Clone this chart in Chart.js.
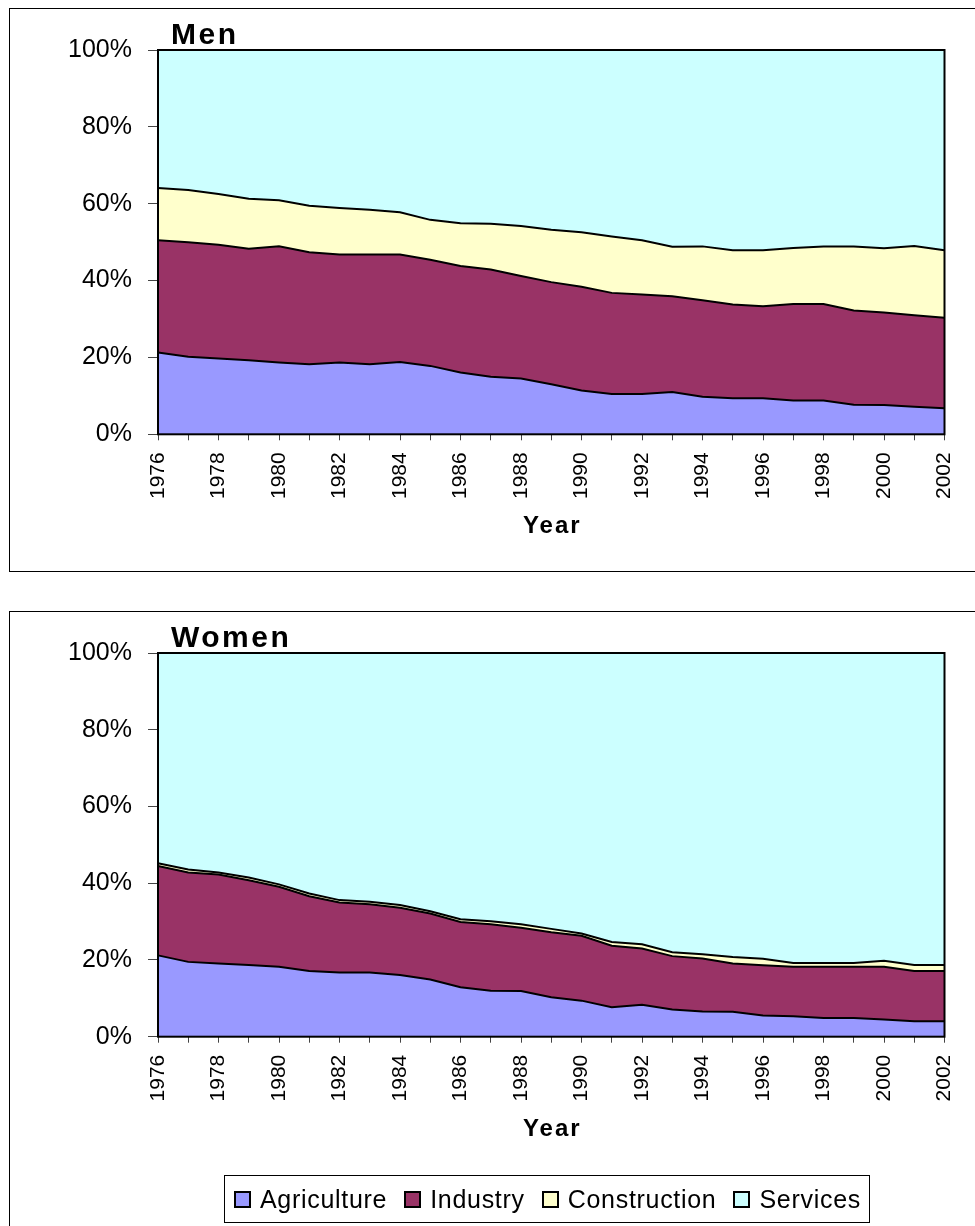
<!DOCTYPE html>
<html>
<head>
<meta charset="utf-8">
<title>Employment by sector, men and women, 1976–2002</title>
<script src="https://cdn.jsdelivr.net/npm/chart.js@4/dist/chart.umd.min.js"></script>
<style>
  html, body { margin: 0; padding: 0; background: #fff; }
  body {
    position: relative; width: 975px; height: 1226px; overflow: hidden;
    font-family: 'Liberation Sans', Arial, sans-serif;
  }
  .frame { position: absolute; border: 1px solid #000; box-sizing: border-box; }
  #menFrame   { left: 9px; top: 8px;   width: 990px; height: 564px; }
  #womenFrame { left: 9px; top: 611px; width: 990px; height: 640px; }
  canvas { position: absolute; }
  #menChart   { left: 10px; top: 9px; }
  #womenChart { left: 10px; top: 612px; }
  #legend {
    position: absolute; left: 224px; top: 1175px; height: 48px;
    box-sizing: border-box; border: 1px solid #000;
    display: flex; align-items: center;
    padding: 0 8px 0 9px;
    font-size: 25px; letter-spacing: 0.7px; color: #000; white-space: nowrap;
  }
  #legend .item { display: flex; align-items: center; margin-right: 17px; }
  #legend .item:last-child { margin-right: 0; }
  #legend .swatch {
    width: 13px; height: 13px; border: 2px solid #000; margin-right: 9px;
    flex: none;
  }
</style>
</head>
<body>
<div class="frame" id="menFrame"></div>
<div class="frame" id="womenFrame"></div>
<canvas id="menChart" width="972" height="562"></canvas>
<canvas id="womenChart" width="972" height="614"></canvas>
<div id="legend"></div>

<script>
// Share of employment by sector (% of all employed), 1976–2002
const years = [1976, 1977, 1978, 1979, 1980, 1981, 1982, 1983, 1984, 1985, 1986, 1987, 1988, 1989,
               1990, 1991, 1992, 1993, 1994, 1995, 1996, 1997, 1998, 1999, 2000, 2001, 2002];

const sectors = ['Agriculture', 'Industry', 'Construction', 'Services'];
const sectorColors = ['#9999FF', '#993366', '#FFFFCC', '#CCFFFF'];

const yTicks = [0, 20, 40, 60, 80, 100];

// Men
const menAgriculture  = [21.3, 20.2, 19.7, 19.3, 18.7, 18.2, 18.7, 18.2, 18.8, 17.8, 16.1, 15.0, 14.5, 13.0,
                         11.4, 10.5, 10.5, 11.0, 9.8, 9.4, 9.4, 8.8, 8.8, 7.7, 7.6, 7.2, 6.8];
const menIndustry     = [29.2, 29.8, 29.6, 29.0, 30.2, 29.2, 28.1, 28.6, 28.0, 27.6, 27.7, 27.9, 26.7, 26.6,
                         27.0, 26.3, 25.9, 24.9, 25.1, 24.4, 23.9, 25.1, 25.1, 24.5, 24.1, 23.8, 23.5];
const menConstruction = [13.6, 13.6, 13.2, 13.0, 12.0, 12.1, 12.1, 11.6, 11.0, 10.4, 11.1, 11.9, 13.0, 13.6,
                         14.2, 14.7, 14.1, 12.9, 14.0, 14.1, 14.6, 14.6, 15.0, 16.7, 16.7, 18.0, 17.6];
const menServices     = [35.9, 36.4, 37.5, 38.7, 39.1, 40.5, 41.1, 41.6, 42.2, 44.2, 45.1, 45.2, 45.8, 46.8,
                         47.4, 48.5, 49.5, 51.2, 51.1, 52.1, 52.1, 51.5, 51.1, 51.1, 51.6, 51.0, 52.1];

// Women
const womenAgriculture  = [21.2, 19.5, 19.1, 18.7, 18.2, 17.1, 16.7, 16.7, 16.1, 14.9, 12.9, 12.0, 11.9, 10.3,
                           9.4, 7.7, 8.3, 7.1, 6.6, 6.5, 5.5, 5.3, 4.9, 4.9, 4.5, 4.0, 4.0];
const womenIndustry     = [23.3, 23.3, 23.2, 22.1, 20.9, 19.5, 18.3, 17.8, 17.5, 17.2, 17.0, 17.3, 16.5, 16.9,
                           16.9, 16.0, 14.7, 13.9, 13.8, 12.6, 13.1, 12.9, 13.3, 13.3, 13.7, 13.1, 13.1];
const womenConstruction = [0.7, 0.8, 0.5, 0.7, 0.6, 0.7, 0.6, 0.7, 0.7, 0.6, 0.7, 0.8, 0.9, 0.9,
                           0.6, 1.0, 1.1, 1.0, 1.1, 1.7, 1.7, 1.0, 1.0, 1.0, 1.6, 1.6, 1.6];
const womenServices     = [54.8, 56.4, 57.2, 58.5, 60.3, 62.7, 64.4, 64.8, 65.7, 67.3, 69.4, 69.9, 70.7, 71.9,
                           73.1, 75.3, 75.9, 78.0, 78.5, 79.2, 79.7, 80.8, 80.8, 80.8, 80.2, 81.3, 81.3];

const FONT = "'Liberation Sans', Arial, sans-serif";
Chart.defaults.font.family = FONT;
Chart.defaults.color = '#000';

// Black frame around the plotting area
const plotFrame = {
  id: 'plotFrame',
  afterDatasetsDraw(chart) {
    const { ctx, chartArea: a } = chart;
    ctx.save();
    ctx.strokeStyle = '#000';
    ctx.lineWidth = 2;
    ctx.strokeRect(a.left, a.top, a.right - a.left, a.bottom - a.top);
    ctx.restore();
  }
};

// Panel heading (top left) and the x-axis caption, drawn with letter spacing
const headings = {
  id: 'headings',
  afterDraw(chart, args, opts) {
    const { ctx, chartArea: a } = chart;
    ctx.save();
    ctx.fillStyle = '#000';
    ctx.textBaseline = 'alphabetic';
    ctx.font = 'bold 30px ' + FONT;
    if ('letterSpacing' in ctx) ctx.letterSpacing = '2.5px';
    ctx.textAlign = 'left';
    ctx.fillText(opts.title, a.left + 13, a.top - 6.5);
    ctx.font = 'bold 24px ' + FONT;
    if ('letterSpacing' in ctx) ctx.letterSpacing = '2px';
    ctx.textAlign = 'center';
    ctx.fillText(opts.axisTitle, (a.left + a.right) / 2 + 1, a.bottom + 99);
    ctx.restore();
  }
};

function sectorChart(canvasId, series, title, xAxisHeight) {
  return new Chart(document.getElementById(canvasId), {
    type: 'line',
    data: {
      labels: years,
      datasets: sectors.map((name, i) => ({
        label: name,
        data: series[i],
        backgroundColor: sectorColors[i],
        borderColor: '#000',
        borderWidth: 2,
        fill: i === 0 ? 'origin' : '-1',
        pointRadius: 0,
        pointHoverRadius: 0,
        tension: 0
      }))
    },
    options: {
      responsive: false,
      animation: false,
      devicePixelRatio: 1,
      events: [],
      layout: { padding: { top: 41, right: 37.5, left: 0, bottom: 0 } },
      plugins: {
        legend: { display: false },
        tooltip: { enabled: false },
        headings: { title: title, axisTitle: 'Year' }
      },
      scales: {
        x: {
          type: 'category',
          offset: false,
          grid: { drawOnChartArea: false, drawTicks: true, tickLength: 6, color: '#444', lineWidth: 1 },
          border: { display: false },
          ticks: {
            autoSkip: false,
            minRotation: 90,
            maxRotation: 90,
            padding: 12,
            color: '#000',
            font: { size: 21 },
            callback: (value, index) => (years[index] % 2 === 0 ? String(years[index]) : '')
          },
          afterFit: (scale) => { scale.height = xAxisHeight; }
        },
        y: {
          stacked: true,
          min: 0,
          max: 100,
          grid: { drawOnChartArea: false, drawTicks: true, tickLength: 10, color: '#444', lineWidth: 1 },
          border: { display: false },
          afterBuildTicks: (scale) => { scale.ticks = yTicks.map(v => ({ value: v })); },
          ticks: {
            padding: 16,
            color: '#000',
            font: { size: 25 },
            callback: (v) => v + '%'
          },
          afterFit: (scale) => { scale.width = 148; }
        }
      }
    },
    plugins: [plotFrame, headings]
  });
}

sectorChart('menChart',
  [menAgriculture, menIndustry, menConstruction, menServices], 'Men', 136.7);

const women = sectorChart('womenChart',
  [womenAgriculture, womenIndustry, womenConstruction, womenServices], 'Women', 189.3);

// Shared legend built from the chart's datasets
const legend = document.getElementById('legend');
women.data.datasets.forEach(ds => {
  const item = document.createElement('div');
  item.className = 'item';
  const sw = document.createElement('span');
  sw.className = 'swatch';
  sw.style.background = ds.backgroundColor;
  const txt = document.createElement('span');
  txt.textContent = ds.label;
  item.appendChild(sw);
  item.appendChild(txt);
  legend.appendChild(item);
});
</script>
</body>
</html>
